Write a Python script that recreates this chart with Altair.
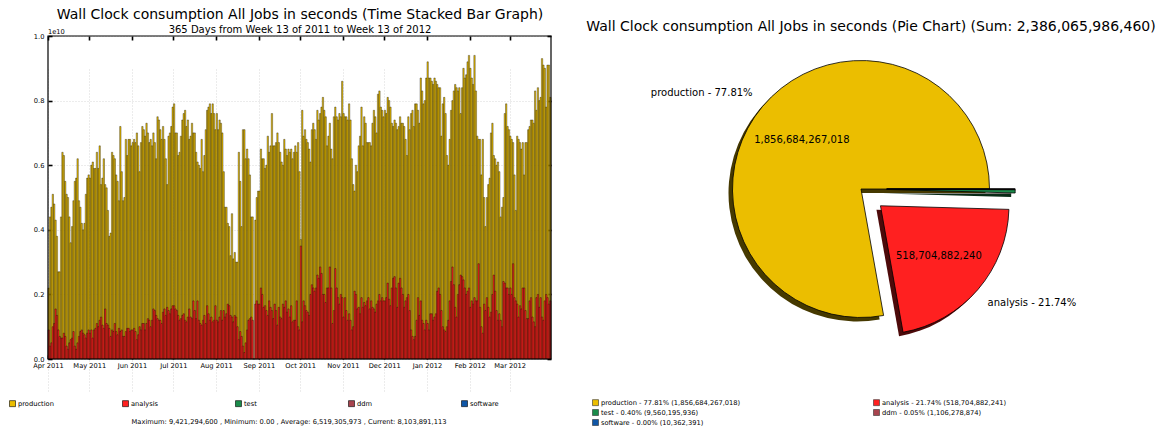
import math
import altair as alt
import pandas as pd

FONT = "DejaVu Sans"

# ---------------- data (units of 1e10 seconds) ----------------
month_starts = ["2011-04-01", "2011-05-01", "2011-06-01", "2011-07-01", "2011-08-01", "2011-09-01",
                "2011-10-01", "2011-11-01", "2011-12-01", "2012-01-01", "2012-02-01", "2012-03-01"]

total_apr = [0.22, 0.44, 0.47, 0.51, 0.48, 0.43, 0.38, 0.27, 0.27, 0.44, 0.64, 0.63, 0.55, 0.51, 0.50,
             0.44, 0.36, 0.41, 0.49, 0.55, 0.56, 0.62, 0.49, 0.47, 0.42, 0.40, 0.42, 0.51, 0.56, 0.57]
total_may = [0.56, 0.60, 0.61, 0.59, 0.59, 0.64, 0.59, 0.66, 0.54, 0.56, 0.62, 0.54, 0.53, 0.46, 0.38,
             0.39, 0.64, 0.63, 0.62, 0.57, 0.55, 0.49, 0.72, 0.58, 0.49, 0.50, 0.68, 0.63, 0.68, 0.68, 0.66]
total_jun = [0.67, 0.68, 0.67, 0.70, 0.66, 0.58, 0.67, 0.72, 0.71, 0.69, 0.73, 0.70, 0.67, 0.68, 0.66,
             0.70, 0.67, 0.62, 0.75, 0.74, 0.71, 0.68, 0.72, 0.68, 0.62, 0.54, 0.69, 0.70, 0.72, 0.78]
total_jul = [0.79, 0.70, 0.70, 0.63, 0.64, 0.69, 0.74, 0.76, 0.77, 0.72, 0.74, 0.68, 0.69, 0.73, 0.70,
             0.70, 0.64, 0.61, 0.60, 0.59, 0.68, 0.58, 0.63, 0.71, 0.77, 0.78, 0.79, 0.76, 0.79, 0.76, 0.71]
total_aug = [0.76, 0.71, 0.74, 0.73, 0.70, 0.58, 0.47, 0.47, 0.42, 0.41, 0.32, 0.45, 0.31, 0.33, 0.30,
             0.30, 0.64, 0.55, 0.41, 0.71, 0.71, 0.62, 0.65, 0.62, 0.57, 0.44, 0.44, 0.0, 0.43, 0.50, 0.52]
total_sep = [0.52, 0.65, 0.62, 0.62, 0.59, 0.60, 0.69, 0.64, 0.66, 0.76, 0.66, 0.66, 0.67, 0.70, 0.67,
             0.64, 0.61, 0.60, 0.68, 0.65, 0.63, 0.65, 0.64, 0.65, 0.62, 0.64, 0.66, 0.64, 0.67, 0.58]
total_oct = [0.37, 0.77, 0.69, 0.71, 0.68, 0.67, 0.65, 0.61, 0.71, 0.73, 0.71, 0.68, 0.77, 0.74, 0.76,
             0.78, 0.81, 0.77, 0.75, 0.66, 0.69, 0.73, 0.65, 0.62, 0.75, 0.78, 0.75, 0.74, 0.76, 0.75, 0.86]
total_nov = [0.76, 0.75, 0.75, 0.74, 0.79, 0.74, 0.62, 0.54, 0.52, 0.60, 0.58, 0.66, 0.69, 0.78, 0.66,
             0.75, 0.73, 0.67, 0.67, 0.67, 0.66, 0.73, 0.77, 0.75, 0.70, 0.82, 0.83, 0.78, 0.77, 0.75]
total_dec = [0.77, 0.76, 0.81, 0.80, 0.78, 0.73, 0.72, 0.74, 0.73, 0.71, 0.72, 0.75, 0.73, 0.73, 0.72,
             0.68, 0.63, 0.75, 0.71, 0.76, 0.77, 0.72, 0.79, 0.79, 0.77, 0.73, 0.87, 0.83, 0.79, 0.80, 0.87]
total_jan = [0.92, 0.87, 0.87, 0.86, 0.85, 0.87, 0.86, 0.85, 0.84, 0.84, 0.69, 0.79, 0.81, 0.76, 0.63,
             0.60, 0.68, 0.77, 0.80, 0.83, 0.85, 0.84, 0.83, 0.84, 0.76, 0.84, 0.90, 0.87, 0.88, 0.92, 0.94]
total_feb = [0.90, 0.87, 0.85, 0.94, 0.83, 0.69, 0.68, 0.68, 0.57, 0.68, 0.50, 0.41, 0.50, 0.54, 0.56,
             0.70, 0.73, 0.63, 0.62, 0.60, 0.61, 0.58, 0.44, 0.47, 0.50, 0.76, 0.79, 0.72, 0.71]
total_mar = [0.69, 0.68, 0.67, 0.57, 0.46, 0.69, 0.68, 0.67, 0.65, 0.67, 0.57, 0.67, 0.67, 0.71, 0.72,
             0.74, 0.74, 0.73, 0.83, 0.77, 0.84, 0.80, 0.81, 0.93, 0.91, 0.90, 0.78, 0.91, 0.91, 0.81]

ana_apr = [0.09, 0.04, 0.05, 0.10, 0.11, 0.155, 0.135, 0.09, 0.07, 0.065, 0.065, 0.08, 0.07, 0.04, 0.03,
           0.05, 0.06, 0.065, 0.085, 0.04, 0.03, 0.05, 0.07, 0.085, 0.09, 0.08, 0.075, 0.065, 0.08, 0.09]
ana_may = [0.08, 0.09, 0.065, 0.09, 0.095, 0.11, 0.10, 0.12, 0.13, 0.105, 0.095, 0.155, 0.11, 0.105, 0.095,
           0.07, 0.09, 0.085, 0.11, 0.085, 0.075, 0.095, 0.085, 0.09, 0.07, 0.07, 0.085, 0.095, 0.095, 0.085, 0.09]
ana_jun = [0.09, 0.095, 0.085, 0.06, 0.075, 0.10, 0.09, 0.11, 0.11, 0.09, 0.11, 0.125, 0.12, 0.10, 0.12,
           0.155, 0.15, 0.135, 0.125, 0.12, 0.12, 0.11, 0.145, 0.155, 0.135, 0.16, 0.15, 0.14, 0.155, 0.165]
ana_jul = [0.165, 0.155, 0.15, 0.135, 0.12, 0.125, 0.135, 0.14, 0.12, 0.115, 0.13, 0.155, 0.13, 0.125, 0.18,
           0.15, 0.125, 0.18, 0.12, 0.11, 0.105, 0.12, 0.135, 0.11, 0.165, 0.14, 0.12, 0.13, 0.115, 0.12, 0.165]
ana_aug = [0.12, 0.115, 0.13, 0.15, 0.12, 0.15, 0.13, 0.14, 0.17, 0.165, 0.135, 0.13, 0.115, 0.135, 0.13,
           0.10, 0.06, 0.085, 0.07, 0.04, 0.02, 0.05, 0.09, 0.12, 0.125, 0.13, 0.12, 0.0, 0.17, 0.18, 0.17]
ana_sep = [0.17, 0.22, 0.20, 0.16, 0.165, 0.15, 0.135, 0.18, 0.16, 0.15, 0.125, 0.17, 0.15, 0.105, 0.16,
           0.13, 0.125, 0.17, 0.16, 0.18, 0.145, 0.155, 0.13, 0.165, 0.115, 0.12, 0.12, 0.18, 0.10, 0.09]
ana_oct = [0.35, 0.115, 0.18, 0.165, 0.15, 0.145, 0.135, 0.20, 0.23, 0.22, 0.21, 0.22, 0.26, 0.25, 0.285,
           0.265, 0.20, 0.20, 0.175, 0.22, 0.22, 0.285, 0.22, 0.11, 0.15, 0.28, 0.22, 0.19, 0.17, 0.20, 0.19]
ana_nov = [0.13, 0.19, 0.15, 0.12, 0.14, 0.12, 0.09, 0.10, 0.21, 0.20, 0.155, 0.16, 0.14, 0.19, 0.16,
           0.175, 0.165, 0.18, 0.19, 0.155, 0.18, 0.16, 0.155, 0.145, 0.17, 0.18, 0.20, 0.18, 0.19, 0.18]
ana_dec = [0.18, 0.19, 0.235, 0.185, 0.165, 0.22, 0.25, 0.255, 0.22, 0.16, 0.235, 0.25, 0.22, 0.20, 0.16,
           0.18, 0.19, 0.20, 0.15, 0.09, 0.07, 0.06, 0.07, 0.12, 0.19, 0.135, 0.18, 0.12, 0.11, 0.09, 0.12]
ana_jan = [0.11, 0.09, 0.14, 0.14, 0.12, 0.13, 0.14, 0.21, 0.22, 0.20, 0.15, 0.10, 0.09, 0.085, 0.10,
           0.12, 0.18, 0.24, 0.285, 0.23, 0.16, 0.13, 0.20, 0.23, 0.26, 0.255, 0.245, 0.22, 0.20, 0.21, 0.22]
ana_feb = [0.16, 0.18, 0.17, 0.19, 0.18, 0.18, 0.295, 0.16, 0.10, 0.08, 0.17, 0.15, 0.19, 0.16, 0.13,
           0.145, 0.20, 0.26, 0.21, 0.15, 0.12, 0.14, 0.12, 0.10, 0.24, 0.235, 0.22, 0.22, 0.20]
ana_mar = [0.22, 0.20, 0.295, 0.19, 0.18, 0.17, 0.13, 0.165, 0.155, 0.22, 0.22, 0.15, 0.125, 0.125, 0.18,
           0.19, 0.13, 0.115, 0.10, 0.19, 0.20, 0.16, 0.19, 0.13, 0.12, 0.18, 0.20, 0.19, 0.17, 0.18]

totals_by_month = [total_apr, total_may, total_jun, total_jul, total_aug, total_sep,
                   total_oct, total_nov, total_dec, total_jan, total_feb, total_mar]
analysis_by_month = [ana_apr, ana_may, ana_jun, ana_jul, ana_aug, ana_sep,
                     ana_oct, ana_nov, ana_dec, ana_jan, ana_feb, ana_mar]

categories = ["production", "analysis", "test", "ddm", "software"]
cat_colors = ["#EBBE00", "#FF2020", "#1A8C4B", "#A8444E", "#0F56A6"]
shadow_colors = ["#463900", "#4D0A0A", "#082A16", "#321417", "#051A32"]
pie_values = [1856684267018, 518704882241, 9560195936, 1106278874, 10362391]
pie_inner_text = ["1,856,684,267,018", "518,704,882,240", "", "", ""]
y_ticks = [0.0, 0.2, 0.4, 0.6, 0.8, 1.0]

left_title = "Wall Clock consumption All Jobs in seconds (Time Stacked Bar Graph)"
left_subtitle = "365 Days from Week 13 of 2011 to Week 13 of 2012"
stats_text = "Maximum: 9,421,294,600 , Minimum: 0.00 , Average: 6,519,305,973 , Current: 8,103,891,113"

# ---------------- layout constants ----------------
W, H = 1161, 428
X0, X1, Y0, Y1 = 48, 551, 36, 359
TICK = 4
CX, CY, R = 861, 189, 128.5
EXPLODE = 0.2
SMALL = 6.7

# ---------------- tables ----------------
prod_rows, ana_rows = [], []
for start, tot, ana in zip(month_starts, totals_by_month, analysis_by_month):
    d1 = pd.date_range(start, periods=len(tot), freq="D")
    for d, v in zip(d1, tot):
        prod_rows.append({"start": d, "end": d + pd.Timedelta(days=1), "value": v, "cat": "production"})
    d2 = pd.date_range(start, periods=len(ana), freq="D")
    for d, v in zip(d2, ana):
        ana_rows.append({"start": d, "end": d + pd.Timedelta(days=1), "value": v, "cat": "analysis"})
bars_df = pd.DataFrame(prod_rows + ana_rows)

SUM = sum(pie_values)
legend_labels = [f"{c} - {v / SUM * 100:.2f}% ({v:,})" for c, v in zip(categories, pie_values)]
outer_labels = [f"{c} - {v / SUM * 100:.2f}%" if v / SUM >= 0.01 else "" for c, v in zip(categories, pie_values)]
pie_df = pd.DataFrame({
    "idx": list(range(len(categories))),
    "cat": categories,
    "value": pie_values,
    "legend_label": legend_labels,
    "inner": pie_inner_text,
    "outer": outer_labels,
})


def dt(s):
    return alt.DateTime(year=int(s[:4]), month=int(s[5:7]), date=int(s[8:10]))


month_ticks = [dt(s) for s in month_starts]
x_scale = alt.Scale(domain=[dt("2011-04-01"), dt("2012-03-31")], range=[X0, X1], nice=False)
y_scale = alt.Scale(domain=[0, 1.0], range=[Y1, Y0], nice=False, zero=True)

# ---------------- bar chart ----------------
left_legend = alt.Legend(
    orient="none", legendX=9, legendY=400, direction="horizontal", columns=5, gridAlign="all",
    columnPadding=67, symbolType="square", symbolSize=36, symbolStrokeWidth=0.6,
    labelFont=FONT, labelFontSize=SMALL, labelColor="black", labelOffset=2, title=None,
    padding=0, labelLimit=300,
)

bars = alt.Chart(bars_df).mark_bar(stroke="black", strokeWidth=0.35).encode(
    x=alt.X("start:T", scale=x_scale, axis=alt.Axis(
        orient="bottom", values=month_ticks, format="%b %Y", offset=(Y1 - TICK) - H,
        tickSize=TICK, tickWidth=1.6, tickColor="black", domain=False,
        labelFont=FONT, labelFontSize=SMALL, labelColor="black", labelPadding=3,
        labelFlush=False, labelOverlap=False, labelBound=False,
        grid=True, gridColor="#c8c8c8", gridDash=[1, 2], gridWidth=0.7, title=None)),
    x2="end:T",
    y=alt.Y("value:Q", scale=y_scale, stack=False, axis=alt.Axis(
        orient="left", values=y_ticks, format=".1f", offset=-(X0 + TICK),
        tickSize=TICK, tickWidth=1.6, tickColor="black", domain=False,
        labelFont=FONT, labelFontSize=SMALL, labelColor="black", labelPadding=4,
        labelFlush=False, labelOverlap=False,
        grid=True, gridColor="#c8c8c8", gridDash=[1, 2], gridWidth=0.7, title=None)),
    y2=alt.Y2(datum=0),
    color=alt.Color("cat:N", scale=alt.Scale(domain=categories, range=cat_colors), legend=left_legend),
)

frame_df = pd.DataFrame({"x0": [bars_df["start"].min()], "x1": [bars_df["end"].max()],
                         "y0": [y_ticks[0]], "y1": [y_ticks[-1]]})
frame = alt.Chart(frame_df).mark_rect(fillOpacity=0, stroke="black", strokeWidth=1.2).encode(
    x=alt.X("x0:T", scale=x_scale, axis=alt.Axis(
        orient="top", values=month_ticks, labels=False, offset=-(Y0 + TICK), tickSize=TICK,
        tickWidth=1.6, tickColor="black", domain=False, grid=False, title=None)),
    x2="x1:T",
    y=alt.Y("y0:Q", scale=y_scale, axis=alt.Axis(
        orient="right", values=y_ticks, labels=False, offset=(X1 - TICK) - W, tickSize=TICK,
        tickWidth=1.6, tickColor="black", domain=False, grid=False, title=None)),
    y2="y1:Q",
)

# ---------------- pie chart ----------------
pie_base = alt.Chart(pie_df).transform_window(
    cum="sum(value)", sort=[alt.SortField("idx")], frame=[None, 0]
).transform_calculate(
    start="datum.cum - datum.value",
    ang=f"PI/2 - 2*PI*(datum.cum - datum.value/2)/{SUM}",
    ex=f"datum.cat == 'production' ? 0 : {EXPLODE * R}",
).transform_calculate(
    cx=f"{CX} + datum.ex*sin(datum.ang)",
    cy=f"{CY} - datum.ex*cos(datum.ang)",
)

theta_scale = alt.Scale(domain=[0, SUM], range=[math.pi / 2, math.pi / 2 - 2 * math.pi], nice=False, zero=False)

right_legend = alt.Legend(
    orient="none", legendX=592, legendY=399, direction="horizontal", columns=2,
    columnPadding=131, rowPadding=1, symbolType="square", symbolSize=36, symbolStrokeWidth=0.6,
    symbolStrokeColor="#333333", labelFont=FONT, labelFontSize=SMALL, labelColor="black",
    labelOffset=2, title=None, padding=0, labelLimit=400,
)

shadow = pie_base.transform_calculate(
    sx="datum.cx - 4", sy="datum.cy + 4"
).mark_arc(radius=R).encode(
    x=alt.X("sx:Q", scale=None),
    y=alt.Y("sy:Q", scale=None),
    theta=alt.Theta("start:Q", scale=theta_scale, stack=False),
    theta2="cum:Q",
    color=alt.Color("cat:N", scale=alt.Scale(domain=categories, range=shadow_colors), legend=None),
)

arcs = pie_base.mark_arc(radius=R, stroke="black", strokeWidth=0.8).encode(
    x=alt.X("cx:Q", scale=None),
    y=alt.Y("cy:Q", scale=None),
    theta=alt.Theta("start:Q", scale=theta_scale, stack=False),
    theta2="cum:Q",
    color=alt.Color("legend_label:N", scale=alt.Scale(domain=legend_labels, range=cat_colors),
                    legend=right_legend),
)

inner_text = pie_base.transform_filter("datum.inner != ''").transform_calculate(
    lx=f"datum.cx + {0.6 * R}*sin(datum.ang)",
    ly=f"datum.cy - {0.6 * R}*cos(datum.ang)",
).mark_text(font=FONT, fontSize=10, color="black", align="center", baseline="middle").encode(
    x=alt.X("lx:Q", scale=None), y=alt.Y("ly:Q", scale=None), text="inner:N")

outer_base = pie_base.transform_filter("datum.outer != ''").transform_calculate(
    lx=f"datum.cx + {1.1 * R}*sin(datum.ang)",
    ly=f"datum.cy - {1.1 * R}*cos(datum.ang) + (cos(datum.ang) > 0 ? -5 : 5)",
)
outer_left = outer_base.transform_filter("sin(datum.ang) < 0").mark_text(
    font=FONT, fontSize=10, color="black", align="right", baseline="middle").encode(
    x=alt.X("lx:Q", scale=None), y=alt.Y("ly:Q", scale=None), text="outer:N")
outer_right = outer_base.transform_filter("sin(datum.ang) >= 0").mark_text(
    font=FONT, fontSize=10, color="black", align="left", baseline="middle").encode(
    x=alt.X("lx:Q", scale=None), y=alt.Y("ly:Q", scale=None), text="outer:N")

right_title = f"Wall Clock consumption All Jobs in seconds (Pie Chart) (Sum: {SUM:,})"


def label(text, x, y, size, align="center"):
    return alt.Chart(pd.DataFrame({"t": [text]})).mark_text(
        font=FONT, fontSize=size, color="black", align=align, baseline="middle"
    ).encode(x=alt.value(x), y=alt.value(y), text="t:N")


texts = [
    label(left_title, 300, 15, 14),
    label(left_subtitle, 300, 29.5, 10),
    label("1e10", X0, 31.5, SMALL, align="left"),
    label(stats_text, 289, 422, SMALL),
    label(right_title, 871, 27, 14),
]

chart = alt.layer(
    bars, frame, shadow, arcs, inner_text, outer_left, outer_right, *texts
).resolve_scale(
    color="independent"
).resolve_axis(
    x="independent", y="independent"
).properties(
    width=W, height=H, autosize=alt.AutoSizeParams(type="none"), padding=0, background="white"
).configure_view(strokeWidth=0)

chart.save("out.html", embed_options={"renderer": "svg", "actions": False})
